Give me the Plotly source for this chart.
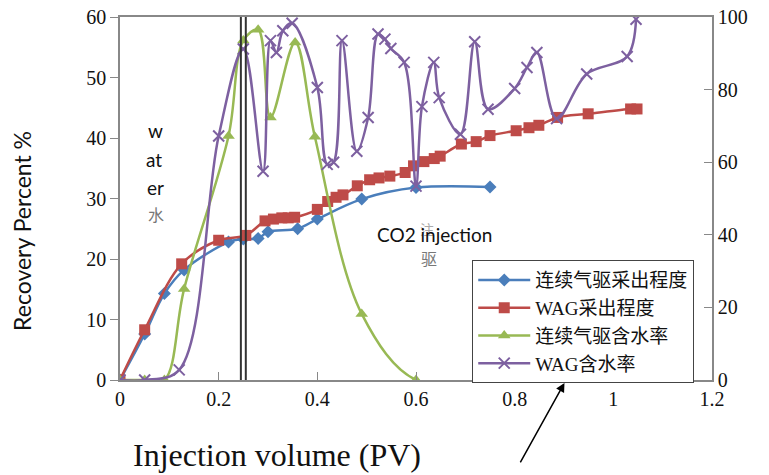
import plotly.graph_objects as go

# --- data ---
blue_x = [0, 0.05, 0.09, 0.13, 0.22, 0.25, 0.28, 0.30, 0.36, 0.40, 0.49, 0.60, 0.75]
blue_y = [0, 7.6, 14.3, 18.2, 22.8, 23.3, 23.4, 24.5, 25.0, 26.6, 29.9, 31.8, 31.9]

red_x = [0, 0.05, 0.125, 0.20, 0.255, 0.294, 0.311, 0.328, 0.341, 0.354, 0.40, 0.421, 0.438,
         0.452, 0.481, 0.506, 0.525, 0.547, 0.578, 0.595, 0.616, 0.637, 0.649, 0.692, 0.722,
         0.75, 0.803, 0.829, 0.849, 0.887, 0.949, 1.035, 1.048]
red_y = [0, 8.3, 19.2, 23.1, 23.9, 26.3, 26.6, 26.8, 26.8, 26.9, 28.2, 29.5, 30.2,
         30.6, 32.1, 33.1, 33.4, 33.7, 34.3, 35.4, 36.1, 36.6, 37.0, 39.0, 39.4,
         40.4, 41.2, 41.7, 42.1, 43.4, 44.0, 44.8, 44.8]

green_x = [0, 0.05, 0.09, 0.13, 0.22, 0.25, 0.28, 0.305, 0.355, 0.395, 0.49, 0.60, 0.75]
green_y = [0, 0, 0, 25.1, 67.2, 93.5, 96.5, 72.3, 93.0, 67.0, 18.2, 0, 0]

purple_x = [0, 0.05, 0.12, 0.20, 0.25, 0.29, 0.305, 0.317, 0.33, 0.349, 0.40, 0.42, 0.433,
            0.45, 0.48, 0.503, 0.523, 0.537, 0.549, 0.576, 0.60, 0.612, 0.636, 0.647, 0.69,
            0.719, 0.746, 0.80, 0.825, 0.845, 0.885, 0.946, 1.028, 1.046]
purple_y = [0, 0, 2.8, 67.2, 91.2, 57.5, 93.5, 90.2, 96.2, 98.3, 80.6, 59.4, 60.0,
            93.5, 63.0, 72.3, 95.3, 93.9, 91.3, 87.5, 53.4, 75.3, 87.5, 77.8, 67.7,
            93.2, 74.6, 80.3, 86.1, 90.2, 72.0, 84.3, 89.1, 99.4]

names = ["连续气驱采出程度", "WAG采出程度", "连续气驱含水率", "WAG含水率"]
x_ticks = [0, 0.2, 0.4, 0.6, 0.8, 1, 1.2]
x_ticklabels = ["0", "0.2", "0.4", "0.6", "0.8", "1", "1.2"]
divider_x = [0.245, 0.255]

SERIF = "Liberation Serif, Times New Roman, serif"
SANS = "Lato, Carlito, Noto Sans, sans-serif"
LEG = "Liberation Serif, Noto Sans CJK SC, serif"

fig = go.Figure()
fig.add_trace(go.Scatter(x=blue_x, y=blue_y, name=names[0], mode="lines+markers",
                         line=dict(color="#4a7ebb", width=2.5, shape="spline", smoothing=1),
                         marker=dict(symbol="diamond", size=10, color="#4a7ebb")))
fig.add_trace(go.Scatter(x=red_x, y=red_y, name=names[1], mode="lines+markers",
                         line=dict(color="#be4b48", width=2.5, shape="spline", smoothing=1),
                         marker=dict(symbol="square", size=11, color="#be4b48")))
fig.add_trace(go.Scatter(x=green_x, y=green_y, name=names[2], mode="lines+markers", yaxis="y2",
                         line=dict(color="#98b954", width=2.5, shape="spline", smoothing=1),
                         marker=dict(symbol="triangle-up", size=11, color="#98b954")))
fig.add_trace(go.Scatter(x=purple_x, y=purple_y, name=names[3], mode="lines+markers", yaxis="y2",
                         line=dict(color="#7d60a0", width=2.5, shape="spline", smoothing=1),
                         marker=dict(symbol="x-thin", size=11, color="#7d60a0",
                                     line=dict(color="#7d60a0", width=2))))

for xv in divider_x:
    fig.add_shape(type="line", xref="x", yref="paper", x0=xv, x1=xv, y0=0, y1=1,
                  line=dict(color="#333333", width=2))

ann = [
    dict(text="w", x=0.072, y=41.3, font=dict(family=SANS, size=19, color="#111")),
    dict(text="at", x=0.068, y=36.5, font=dict(family=SANS, size=19, color="#111")),
    dict(text="er", x=0.072, y=31.8, font=dict(family=SANS, size=19, color="#111")),
    dict(text="水", x=0.072, y=27.4, font=dict(family="Noto Sans CJK SC", size=16, color="#777")),
    dict(text="注", x=0.622, y=24.9, font=dict(family="Noto Sans CJK SC", size=14, color="#aaa")),
    dict(text="CO2 injection", x=0.638, y=24.0, font=dict(family=SANS, size=19, color="#111")),
    dict(text="驱", x=0.626, y=20.2, font=dict(family="Noto Sans CJK SC", size=16, color="#777")),
]
for a in ann:
    fig.add_annotation(xref="x", yref="y", showarrow=False, **a)

# axis titles
fig.add_annotation(xref="paper", yref="paper", x=0.265, y=-0.207, xanchor="center", yanchor="middle",
                   text="Injection volume (PV)", showarrow=False,
                   font=dict(family=SERIF, size=32, color="#111"))
fig.add_annotation(xref="paper", yref="paper", x=-0.166, y=0.41, xanchor="center", yanchor="middle",
                   text="Recovery Percent %", showarrow=False, textangle=-90,
                   font=dict(family=SANS, size=23, color="#111"))

fig.add_annotation(xref="x", yref="paper", x=0.901, y=-0.008, text="", showarrow=True,
                   ax=-45, ay=81, arrowhead=2, arrowsize=1.2, arrowwidth=1.5, arrowcolor="#000")

fig.update_layout(
    width=769, height=475,
    margin=dict(l=120, r=57, t=17, b=95, autoexpand=False),
    paper_bgcolor="white", plot_bgcolor="white",
    showlegend=True,
    legend=dict(x=0.595, y=0.33, xanchor="left", yanchor="top",
                bordercolor="#444", borderwidth=1, bgcolor="white",
                font=dict(family=LEG, size=19, color="#111"),
                tracegroupgap=0, itemwidth=52),
    xaxis=dict(range=[0, 1.2], tickvals=x_ticks, ticktext=x_ticklabels, automargin=False,
               showgrid=False, zeroline=False, showline=True, linecolor="#888", linewidth=1.5,
               mirror=True, ticks="inside", ticklen=8, tickcolor="#888",
               tickfont=dict(family=SERIF, size=20, color="#111")),
    yaxis=dict(range=[0, 60], dtick=10, showgrid=False, zeroline=False, automargin=False,
               showline=True, linecolor="#888", linewidth=1.5,
               ticks="outside", ticklen=8, tickcolor="#888",
               tickfont=dict(family=SERIF, size=20, color="#111")),
    yaxis2=dict(range=[0, 100], dtick=20, overlaying="y", side="right", showgrid=False,
                zeroline=False, showline=True, linecolor="#888", linewidth=1.5, automargin=False,
                ticks="inside", ticklen=8, tickcolor="#888",
                tickfont=dict(family=SERIF, size=20, color="#111")),
)

fig.write_html("out.html", config={"displayModeBar": False},
               post_script="document.body.style.margin='0';document.body.style.overflow='hidden';")
